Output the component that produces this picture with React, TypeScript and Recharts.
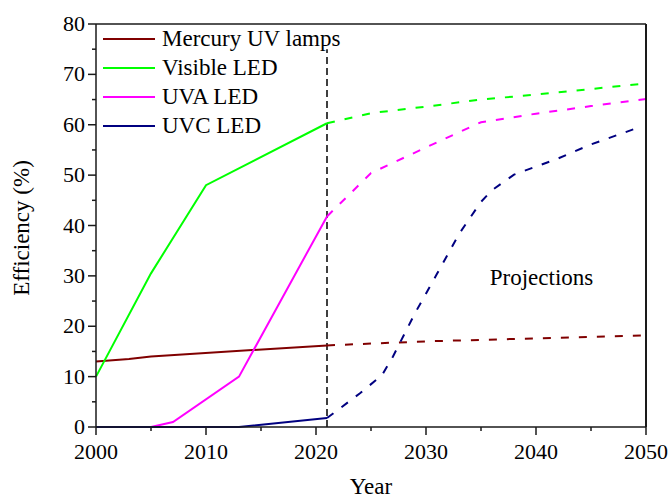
import { LineChart, Line, XAxis, YAxis, ReferenceLine, ReferenceDot } from "recharts";

const FONT = '"Liberation Serif", "Times New Roman", serif';

// axis ticks
const xTicks = [2000, 2005, 2010, 2015, 2020, 2025, 2030, 2035, 2040, 2045, 2050];
const yTicks = [0, 5, 10, 15, 20, 25, 30, 35, 40, 45, 50, 55, 60, 65, 70, 75, 80];

// Mercury UV lamps
const mercuryYears = [2000, 2003, 2005, 2021];
const mercuryValues = [13, 13.5, 14, 16.2];
const mercuryProjYears = [2021, 2030, 2040, 2050];
const mercuryProjValues = [16.2, 17, 17.6, 18.2];

// Visible LED
const visibleYears = [2000, 2005, 2010, 2021];
const visibleValues = [10, 30.5, 48, 60.3];
const visibleProjYears = [2021, 2025, 2030, 2035, 2040, 2050];
const visibleProjValues = [60.3, 62.3, 63.6, 65, 66, 68.2];

// UVA LED
const uvaYears = [2000, 2005, 2007, 2013, 2021];
const uvaValues = [0, 0, 1, 10, 41.8];
const uvaProjYears = [2021, 2025, 2030, 2035, 2040, 2045, 2050];
const uvaProjValues = [41.8, 50.4, 55.5, 60.5, 62.2, 63.7, 65.1];

// UVC LED
const uvcYears = [2000, 2013, 2021];
const uvcValues = [0, 0, 1.8];
const uvcProjYears = [2021, 2022, 2024, 2026, 2027, 2029, 2031, 2033, 2035, 2036, 2038, 2042, 2045, 2049];
const uvcProjValues = [1.8, 3.4, 6.7, 10.3, 14, 22.6, 30.4, 38.3, 44.7, 47, 50.1, 53.3, 56.1, 59.2];

const toPoints = (years: number[], values: number[]) =>
  years.map((year, i) => ({ year, value: values[i] }));

const series = [
  { name: "Mercury UV lamps", color: "#800000", hist: toPoints(mercuryYears, mercuryValues), proj: toPoints(mercuryProjYears, mercuryProjValues) },
  { name: "Visible LED", color: "#00ff00", hist: toPoints(visibleYears, visibleValues), proj: toPoints(visibleProjYears, visibleProjValues) },
  { name: "UVA LED", color: "#ff00ff", hist: toPoints(uvaYears, uvaValues), proj: toPoints(uvaProjYears, uvaProjValues) },
  { name: "UVC LED", color: "#000080", hist: toPoints(uvcYears, uvcValues), proj: toPoints(uvcProjYears, uvcProjValues) },
];

const AXIS = "#1a1a1a";

function XTick({ x, y, payload }: any) {
  const major = payload.value % 10 === 0;
  return (
    <g>
      <line x1={x} x2={x} y1={y} y2={y + (major ? 8 : 4)} stroke={AXIS} strokeWidth={1.5} />
      {major && (
        <text x={x} y={y + 32} textAnchor="middle" fill="#000" fontSize={22} fontFamily={FONT}>
          {payload.value}
        </text>
      )}
    </g>
  );
}

function YTick({ x, y, payload }: any) {
  const major = payload.value % 10 === 0;
  return (
    <g>
      <line x1={x - (major ? 8 : 4)} x2={x} y1={y} y2={y} stroke={AXIS} strokeWidth={1.5} />
      {major && (
        <text x={x - 11} y={y + 7} textAnchor="end" fill="#000" fontSize={22} fontFamily={FONT}>
          {payload.value}
        </text>
      )}
    </g>
  );
}

function RightTick({ x, y }: any) {
  return <line x1={x - 2} x2={x} y1={y} y2={y} stroke={AXIS} strokeWidth={1.5} />;
}

export default function App() {
  return (
    <div style={{ position: "absolute", left: 0, top: 0, width: 670, height: 499, background: "#fff" }}>
      <LineChart width={670} height={499} margin={{ top: 0, right: 0, bottom: 0, left: 0 }}>
        <XAxis
          xAxisId="top"
          orientation="top"
          dataKey="year"
          type="number"
          domain={[2000, 2050]}
          height={24}
          tick={false}
          tickLine={false}
          axisLine={{ stroke: AXIS, strokeWidth: 1.5 }}
        />
        <XAxis
          dataKey="year"
          type="number"
          domain={[2000, 2050]}
          ticks={xTicks}
          interval={0}
          height={72}
          tickSize={0}
          tickMargin={0}
          tickLine={false}
          tick={<XTick />}
          axisLine={{ stroke: AXIS, strokeWidth: 1.5 }}
          label={{
            content: () => (
              <text x={371} y={494} textAnchor="middle" fill="#000" fontSize={23} fontFamily={FONT}>
                Year
              </text>
            ),
          }}
        />
        <YAxis
          type="number"
          domain={[0, 80]}
          ticks={yTicks}
          interval={0}
          width={96}
          tickSize={0}
          tickMargin={0}
          tickLine={false}
          tick={<YTick />}
          axisLine={{ stroke: AXIS, strokeWidth: 1.5 }}
          label={{
            content: () => (
              <text
                x={29}
                y={228}
                transform="rotate(-90 29 228)"
                textAnchor="middle"
                fill="#000"
                fontSize={23}
                fontFamily={FONT}
              >
                Efficiency (%)
              </text>
            ),
          }}
        />
        <YAxis
          yAxisId="right"
          orientation="right"
          type="number"
          domain={[0, 80]}
          ticks={yTicks}
          interval={0}
          width={24}
          tickSize={0}
          tickMargin={0}
          tickLine={false}
          tick={<RightTick />}
          axisLine={{ stroke: AXIS, strokeWidth: 2 }}
        />
        <ReferenceLine
          segment={[
            { x: 2021, y: 0 },
            { x: 2021, y: 75 },
          ]}
          stroke="#000"
          strokeWidth={1.5}
          strokeDasharray="7 4"
        />
        {series.map((s) => (
          <Line
            key={s.name + "-hist"}
            data={s.hist}
            dataKey="value"
            type="linear"
            stroke={s.color}
            strokeWidth={2}
            dot={false}
            activeDot={false}
            isAnimationActive={false}
          />
        ))}
        {series.map((s) => (
          <Line
            key={s.name + "-proj"}
            data={s.proj}
            dataKey="value"
            type="linear"
            stroke={s.color}
            strokeWidth={2}
            strokeDasharray="8 10"
            dot={false}
            activeDot={false}
            isAnimationActive={false}
          />
        ))}
        <ReferenceDot
          x={2040.5}
          y={29.8}
          r={0}
          fill="none"
          stroke="none"
          label={{ value: "Projections", position: "center", fill: "#000", fontSize: 23, fontFamily: FONT }}
        />
      </LineChart>
      <div style={{ position: "absolute", left: 103, top: 24, fontFamily: FONT, fontSize: 23 }}>
        {series.map((s) => (
          <div key={s.name} style={{ display: "flex", alignItems: "center", height: 29 }}>
            <div style={{ width: 52, height: 2, background: s.color, marginRight: 7 }} />
            <span style={{ color: "#000", lineHeight: "26px" }}>{s.name}</span>
          </div>
        ))}
      </div>
    </div>
  );
}
